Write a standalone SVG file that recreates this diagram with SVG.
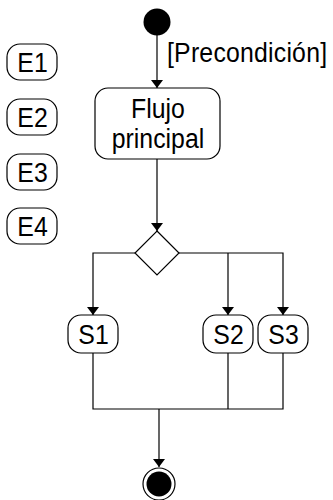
<svg xmlns="http://www.w3.org/2000/svg" width="333" height="500" viewBox="0 0 333 500">
  <defs>
    <marker id="arrow" markerWidth="9" markerHeight="12" refX="8" refY="6" orient="auto" markerUnits="userSpaceOnUse">
      <path d="M0,0 L8,6 L0,12 Z" fill="#000"/>
    </marker>
  </defs>
  <style>
    .box { fill: #fff; stroke: #000; stroke-width: 1.2; }
    .line { fill: none; stroke: #000; stroke-width: 1.2; }
    .lbl { font-family: "Liberation Sans", Arial, sans-serif; font-size: 27px; fill: #000; }
    .mid { text-anchor: middle; }
  </style>
  <rect width="333" height="500" fill="#fff"/>

  <!-- connectors -->
  <g id="connectors">
    <path class="line" d="M157,35 V88" marker-end="url(#arrow)"/>
    <path class="line" d="M157,159 V231" marker-end="url(#arrow)"/>
    <path class="line" d="M135,253 H93 V315" marker-end="url(#arrow)"/>
    <path class="line" d="M179,253 H283 V315" marker-end="url(#arrow)"/>
    <path class="line" d="M228,253 V315" marker-end="url(#arrow)"/>
    <path class="line" d="M93,353 V409 H283 V353 M228,353 V409"/>
    <path class="line" d="M159,409 V467" marker-end="url(#arrow)"/>
    <text class="lbl" transform="translate(167,62) scale(0.92,1)" textLength="174" lengthAdjust="spacing">[Precondición]</text>
  </g>

  <!-- initial node -->
  <g id="start">
    <circle cx="157" cy="22" r="13.5" fill="#000"/>
  </g>

  <!-- main activity -->
  <g id="flujo">
    <rect class="box" x="95" y="88" width="125" height="71" rx="13"/>
    <text class="lbl mid" transform="translate(158,118) scale(0.92,1)">Flujo</text>
    <text class="lbl mid" transform="translate(158,148) scale(0.92,1)">principal</text>
  </g>

  <!-- exception activities -->
  <g id="e1">
    <rect class="box" x="7" y="44" width="50" height="36" rx="13"/>
    <text class="lbl mid" transform="translate(32.5,72) scale(0.92,1)">E1</text>
  </g>
  <g id="e2">
    <rect class="box" x="7" y="99" width="50" height="36" rx="13"/>
    <text class="lbl mid" transform="translate(32.5,127) scale(0.92,1)">E2</text>
  </g>
  <g id="e3">
    <rect class="box" x="7" y="154" width="50" height="36" rx="13"/>
    <text class="lbl mid" transform="translate(32.5,182) scale(0.92,1)">E3</text>
  </g>
  <g id="e4">
    <rect class="box" x="7" y="208" width="50" height="36" rx="13"/>
    <text class="lbl mid" transform="translate(32.5,236) scale(0.92,1)">E4</text>
  </g>

  <!-- decision -->
  <g id="decision">
    <path class="box" d="M157,231 L179,253 L157,275 L135,253 Z"/>
  </g>

  <!-- outcome activities -->
  <g id="s1">
    <rect class="box" x="68" y="315" width="50" height="38" rx="13"/>
    <text class="lbl mid" transform="translate(93.5,344) scale(0.92,1)">S1</text>
  </g>
  <g id="s2">
    <rect class="box" x="203" y="315" width="50" height="38" rx="13"/>
    <text class="lbl mid" transform="translate(228.5,344) scale(0.92,1)">S2</text>
  </g>
  <g id="s3">
    <rect class="box" x="258" y="315" width="50" height="38" rx="13"/>
    <text class="lbl mid" transform="translate(283.5,344) scale(0.92,1)">S3</text>
  </g>

  <!-- final node -->
  <g id="end">
    <circle cx="159" cy="484" r="16" fill="#fff" stroke="#000" stroke-width="1.2"/>
    <circle cx="159" cy="484" r="12.5" fill="#000"/>
  </g>
</svg>
